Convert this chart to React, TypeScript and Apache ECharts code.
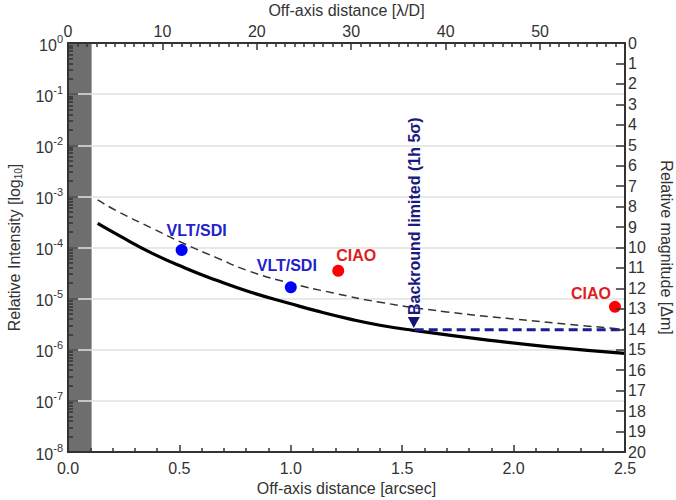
import React, { useEffect, useRef } from "react";
import * as echarts from "echarts";

// Solid curve (off-axis distance [arcsec] -> relative intensity)
const solidX = [0.133, 0.226, 0.376, 0.525, 0.66, 0.817, 1.0, 1.116, 1.266, 1.4, 1.55, 1.85, 2.15, 2.5];
const solidY = [2.95e-4, 1.74e-4, 7.76e-5, 3.98e-5, 2.34e-5, 1.35e-5, 7.94e-6, 5.75e-6, 3.98e-6, 3.02e-6, 2.4e-6, 1.62e-6, 1.15e-6, 8.5e-7];
// Dashed curve
const dashedX = [0.133, 0.226, 0.376, 0.525, 0.66, 0.817, 1.0, 1.191, 1.4, 1.7, 2.0, 2.3, 2.5];
const dashedY = [8.5e-4, 5.0e-4, 2.4e-4, 1.17e-4, 6.5e-5, 3.4e-5, 2.0e-5, 1.29e-5, 8.5e-6, 5.5e-6, 4.0e-6, 3.0e-6, 2.5e-6];
// Measurements
const vltX = [0.51, 1.0];
const vltY = [8.9e-5, 1.66e-5];
const ciaoX = [1.213, 2.455];
const ciaoY = [3.5e-5, 6.9e-6];
// Background limit
const bgLimitX = [1.556, 2.5];
const bgLimitY = 2.45e-6;
const arrowX = 1.552;
const arrowY = 3.4e-6;
const bgLabel = "Backround limited (1h 5\u03c3)";
// Coronagraph mask edge
const maskEdge = 0.106;
// Axes
const arcsecMin = 0;
const arcsecMax = 2.5;
const lambdaMax = 59;
const logMin = -8;
const logMax = 0;
const magMin = 0;
const magMax = 20;

const lg = Math.log10;
const FONT = "'Liberation Sans', Arial, sans-serif";
const TXT = "#333";

const minorLog: number[] = [];
for (let d = logMin; d < logMax; d++) {
  for (let k = 2; k <= 9; k++) minorLog.push(d + lg(k));
}
const minorLambda: number[] = [];
for (let v = 1; v < lambdaMax; v++) if (v % 10 !== 0) minorLambda.push(v);

export default function App() {
  const ref = useRef<HTMLDivElement>(null);
  useEffect(() => {
    if (!ref.current) return;
    const chart = echarts.init(ref.current, null, { renderer: "svg" });
    const axisLine = { show: true, onZero: false, lineStyle: { color: TXT, width: 2 } };
    const tickStyle = { color: TXT, width: 1.5 };
    const labelFont = { fontFamily: FONT, fontSize: 16, color: TXT };
    const nameStyle = { fontFamily: FONT, fontSize: 16, color: TXT };

    chart.setOption({
      animation: false,
      backgroundColor: "#fff",
      grid: { left: 68, right: 51, top: 43, bottom: 48, containLabel: false, outerBoundsMode: "none" },
      xAxis: [
        {
          type: "value",
          position: "bottom",
          min: arcsecMin,
          max: arcsecMax,
          interval: 0.5,
          z: 5,
          axisLine,
          axisTick: { inside: true, length: 7, lineStyle: tickStyle },
          minorTick: { show: true, splitNumber: 5, length: 4, lineStyle: tickStyle },
          axisLabel: { ...labelFont, margin: 8, formatter: (v: number) => v.toFixed(1) },
          splitLine: { show: false },
          name: "Off-axis distance [arcsec]",
          nameLocation: "middle",
          nameGap: 27,
          nameTextStyle: nameStyle,
        },
        {
          type: "value",
          position: "top",
          min: 0,
          max: lambdaMax,
          interval: 10,
          z: 5,
          axisLine,
          axisTick: { inside: true, length: 7, lineStyle: tickStyle },
          axisLabel: { ...labelFont, margin: 4, showMaxLabel: false },
          splitLine: { show: false },
          name: "Off-axis distance [\u03bb/D]",
          nameLocation: "middle",
          nameGap: 21,
          nameTextStyle: nameStyle,
        },
        {
          type: "value",
          position: "top",
          min: 0,
          max: lambdaMax,
          z: 5,
          axisLine: { show: false },
          axisTick: { inside: true, length: 4, lineStyle: tickStyle, customValues: minorLambda },
          axisLabel: { show: false },
          splitLine: { show: false },
        },
      ],
      yAxis: [
        {
          type: "value",
          position: "left",
          min: logMin,
          max: logMax,
          interval: 1,
          z: 2,
          axisLine,
          axisTick: { show: false },
          axisLabel: {
            margin: 5,
            formatter: (v: number) => `{b|10}{s|${v}}`,
            rich: {
              b: { fontFamily: FONT, fontSize: 16, color: TXT, verticalAlign: "bottom" },
              s: { fontFamily: FONT, fontSize: 11, color: TXT, verticalAlign: "bottom", padding: [0, 0, 9, 0] },
            },
          },
          splitLine: { show: true, lineStyle: { color: "#e2e2e2", width: 1.5 } },
          name: "Relative Intensity [log{sub|10}]",
          nameLocation: "middle",
          nameRotate: 90,
          nameGap: 45,
          nameTextStyle: {
            ...nameStyle,
            rich: { sub: { fontFamily: FONT, fontSize: 10, color: TXT, verticalAlign: "top", padding: [7, 0, 0, 0] } },
          },
        },
        {
          type: "value",
          position: "left",
          min: logMin,
          max: logMax,
          interval: 1,
          z: 5,
          axisLine,
          axisTick: { inside: true, length: 10, lineStyle: tickStyle },
          axisLabel: { show: false },
          splitLine: { show: false },
        },
        {
          type: "value",
          position: "left",
          min: logMin,
          max: logMax,
          z: 5,
          axisLine: { show: false },
          axisTick: { inside: true, length: 5, lineStyle: tickStyle, customValues: minorLog },
          axisLabel: { show: false },
          splitLine: { show: false },
        },
        {
          type: "value",
          position: "right",
          min: magMin,
          max: magMax,
          interval: 1,
          inverse: true,
          z: 5,
          axisLine,
          axisTick: { inside: true, length: 9, lineStyle: tickStyle },
          axisLabel: { ...labelFont, margin: 3 },
          splitLine: { show: false },
          name: "Relative magnitude [\u0394m]",
          nameLocation: "middle",
          nameRotate: -90,
          nameGap: 33,
          nameTextStyle: nameStyle,
        },
      ],
      series: [
        {
          type: "line",
          name: "mask",
          data: [],
          z: 1,
          silent: true,
          markArea: {
            silent: true,
            itemStyle: { color: "#6e6e6e" },
            data: [[{ xAxis: 0 }, { xAxis: maskEdge }]],
          },
        },
        {
          type: "line",
          name: "contrast",
          z: 3,
          data: solidX.map((x, i) => [x, lg(solidY[i])]),
          showSymbol: false,
          symbol: "none",
          smooth: 0.5,
          lineStyle: { color: "#000", width: 3.2 },
        },
        {
          type: "line",
          name: "contrast2",
          z: 3,
          data: dashedX.map((x, i) => [x, lg(dashedY[i])]),
          showSymbol: false,
          symbol: "none",
          smooth: 0.5,
          lineStyle: { color: "#333", width: 1.5, type: [8, 5] },
        },
        {
          type: "line",
          name: "bglimit",
          z: 3,
          data: bgLimitX.map((x) => [x, lg(bgLimitY)]),
          showSymbol: false,
          symbol: "none",
          lineStyle: { color: "#1c1c96", width: 3, type: [9, 5] },
        },
        {
          type: "scatter",
          name: "arrow",
          z: 4,
          symbol: "triangle",
          symbolRotate: 180,
          symbolSize: [12, 11],
          itemStyle: { color: "#14147a", opacity: 1 },
          data: [[arrowX, lg(arrowY)]],
          label: {
            show: true,
            formatter: bgLabel,
            rotate: 90,
            position: [7, -2],
            align: "left",
            verticalAlign: "middle",
            fontFamily: FONT,
            fontSize: 16,
            fontWeight: "bold",
            color: "#1a1a80",
            opacity: 1,
          },
        },
        {
          type: "scatter",
          name: "VLT/SDI",
          z: 4,
          symbolSize: 12,
          itemStyle: { color: "#0000ff", opacity: 1 },
          label: {
            show: true,
            position: "inside",
            formatter: "VLT/SDI",
            fontFamily: FONT,
            fontSize: 16,
            fontWeight: "bold",
            color: "#2222cc",
            opacity: 1,
          },
          data: vltX.map((x, i) => ({
            value: [x, lg(vltY[i])],
            label: { offset: i === 0 ? [15, -20] : [-4, -22] },
          })),
        },
        {
          type: "scatter",
          name: "CIAO",
          z: 4,
          symbolSize: 12,
          itemStyle: { color: "#ff0000", opacity: 1 },
          label: {
            show: true,
            position: "inside",
            formatter: "CIAO",
            fontFamily: FONT,
            fontSize: 16,
            fontWeight: "bold",
            color: "#dd1f1f",
            opacity: 1,
          },
          data: ciaoX.map((x, i) => ({
            value: [x, lg(ciaoY[i])],
            label: { offset: i === 0 ? [18, -15] : [-24, -13] },
          })),
        },
      ],
    });
    return () => chart.dispose();
  }, []);
  return <div ref={ref} style={{ position: "absolute", left: 0, top: 0, width: 676, height: 500 }} />;
}
